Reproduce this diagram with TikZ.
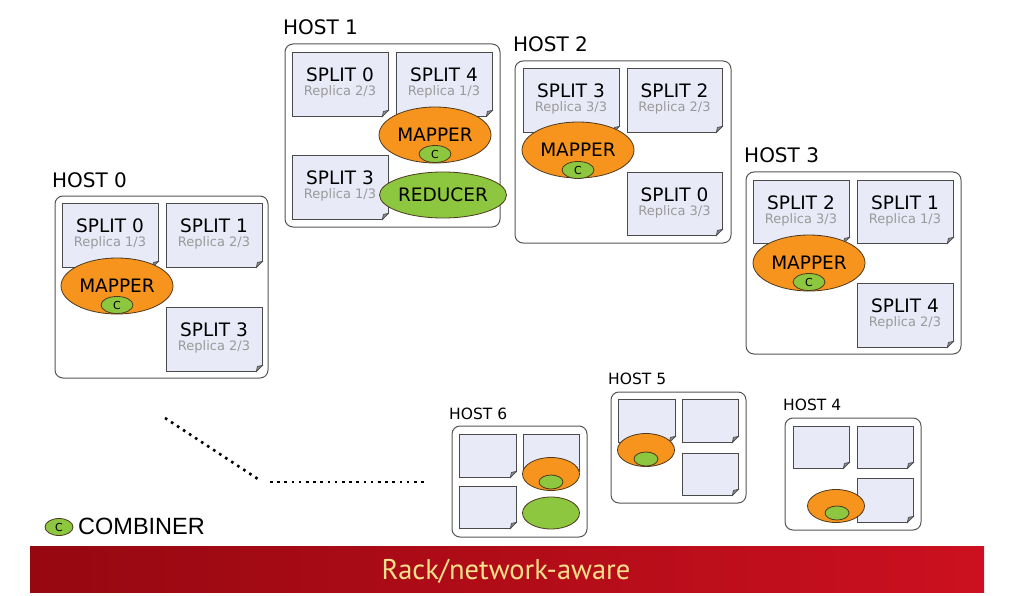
\documentclass[tikz,border=0pt]{standalone}
\usepackage{fontspec}
\setmainfont{DejaVu Sans}
\newfontfamily\combfont{Liberation Sans}
\newfontfamily\rackfont{PT Sans}
\usetikzlibrary{shapes.geometric,calc,fit}
\definecolor{splitfill}{HTML}{E8EAF8}
\definecolor{splitline}{HTML}{4A4A4A}
\definecolor{foldgray}{HTML}{8C8C8C}
\definecolor{hostline}{HTML}{555555}
\definecolor{mapfill}{HTML}{F7941E}
\definecolor{combfill}{HTML}{8DC63F}
\definecolor{ellline}{HTML}{4D3A1E}
\definecolor{repgray}{HTML}{9A9A9A}
\definecolor{rackL}{HTML}{960810}
\definecolor{rackR}{HTML}{CC1020}
\definecolor{racktext}{HTML}{F6E08C}
\tikzset{
  hostbox/.style={draw=hostline, line width=1pt, fill=white, rounded corners=8pt, inner sep=0pt},
  hostlbl/.style={anchor=base west, inner sep=0pt, font=\fontsize{20}{22}\selectfont},
  smalllbl/.style={anchor=base west, inner sep=0pt, font=\fontsize{15.5}{17}\selectfont},
  splitbox/.style={draw=splitline, line width=0.8pt, fill=splitfill, inner sep=0pt},
  splittext/.style={align=center, inner sep=0pt, font=\fontsize{13}{14}\selectfont},
  mapper/.style={ellipse, draw=ellline, line width=0.8pt, fill=mapfill, inner sep=0pt, minimum width=112pt, minimum height=56pt, font=\fontsize{18.5}{20}\selectfont},
  reducer/.style={ellipse, draw=ellline, line width=0.8pt, fill=combfill, inner sep=0pt, minimum width=97pt, minimum height=46pt, font=\fontsize{18.5}{20}\selectfont},
  comb/.style={ellipse, draw=ellline, line width=0.8pt, fill=combfill, inner sep=0pt, minimum width=32pt, minimum height=17pt, font=\fontsize{11}{12}\selectfont},
  smap/.style={ellipse, draw=ellline, line width=0.8pt, fill=mapfill, inner sep=0pt, minimum width=57pt, minimum height=33pt},
  scomb/.style={ellipse, draw=ellline, line width=0.8pt, fill=combfill, inner sep=0pt, minimum width=24pt, minimum height=14pt},
  sred/.style={ellipse, draw=ellline, line width=0.8pt, fill=combfill, inner sep=0pt, minimum width=57pt, minimum height=32pt},
  dotline/.style={line width=2.6pt, dash pattern=on 2.6pt off 4.6pt},
}
\newcommand\Page[5]{%
  \node[splitbox, fit={(#2,#3) (#4,#5)}] (#1) {};
  \fill[white] ($(#1.south east)+(-6,0.9)$) -- ($(#1.south east)+(0.9,0.9)$) -- ($(#1.south east)+(0.9,-6)$) -- cycle;
  \draw[splitline, line width=0.7pt, fill=foldgray] ($(#1.south east)+(-6,0)$) -- ($(#1.south east)+(0,-6)$) -- ($(#1.south east)+(-5,-5)$) -- cycle;
}
\newcommand\SplitLbl[2]{{\fontsize{18.5}{14}\selectfont #1}\\{\color{repgray}#2}}
\begin{document}
\begin{tikzpicture}[x=1pt,y=-1pt]
\useasboundingbox (0,0) rectangle (1024,596);
\fill[white] (0,0) rectangle (1024,596);

% HOST 0
\node[hostlbl] (h0l) at (52,187) {HOST 0};
\node[hostbox, fit={(55,196) (268,378)}] (h0) {};
\Page{h0s0}{62}{203}{158}{267}
\Page{h0s1}{166}{203}{262}{267}
\Page{h0s3}{166}{307}{262}{371}
\node[splittext] (h0s0t) at ($(h0s0)+(0,-1)$) {\SplitLbl{SPLIT 0}{Replica 1/3}};
\node[splittext] (h0s1t) at ($(h0s1)+(0,-1)$) {\SplitLbl{SPLIT 1}{Replica 2/3}};
\node[splittext] (h0s3t) at ($(h0s3)+(0,-1)$) {\SplitLbl{SPLIT 3}{Replica 2/3}};
\node[mapper] (h0m) at (117,286) {MAPPER};
\node[comb] (h0c) at (117,305) {C};

% HOST 1
\node[hostlbl] (h1l) at (283,35) {HOST 1};
\node[hostbox, fit={(285,44) (500,227)}] (h1) {};
\Page{h1s0}{292}{52}{388}{116}
\Page{h1s4}{396}{52}{492}{116}
\Page{h1s3}{292}{155}{388}{219}
\node[splittext] (h1s0t) at ($(h1s0)+(0,-1)$) {\SplitLbl{SPLIT 0}{Replica 2/3}};
\node[splittext] (h1s4t) at ($(h1s4)+(0,-1)$) {\SplitLbl{SPLIT 4}{Replica 1/3}};
\node[splittext] (h1s3t) at ($(h1s3)+(0,-1)$) {\SplitLbl{SPLIT 3}{Replica 1/3}};
\node[mapper] (h1m) at (435,135) {MAPPER};
\node[comb] (h1c) at (435,154) {C};
\node[reducer] (h1r) at (443,195) {REDUCER};

% HOST 2
\node[hostlbl] (h2l) at (513,52) {HOST 2};
\node[hostbox, fit={(515,61) (731,243)}] (h2) {};
\Page{h2s3}{523}{68}{619}{132}
\Page{h2s2}{627}{68}{722}{132}
\Page{h2s0}{627}{172}{722}{235}
\node[splittext] (h2s3t) at ($(h2s3)+(0,-1)$) {\SplitLbl{SPLIT 3}{Replica 3/3}};
\node[splittext] (h2s2t) at ($(h2s2)+(0,-1)$) {\SplitLbl{SPLIT 2}{Replica 2/3}};
\node[splittext] (h2s0t) at ($(h2s0)+(0,-1)$) {\SplitLbl{SPLIT 0}{Replica 3/3}};
\node[mapper] (h2m) at (578,150) {MAPPER};
\node[comb] (h2c) at (578,170) {C};

% HOST 3
\node[hostlbl] (h3l) at (744,163) {HOST 3};
\node[hostbox, fit={(746,172) (961,354)}] (h3) {};
\Page{h3s2}{753}{180}{849}{243}
\Page{h3s1}{857}{180}{953}{243}
\Page{h3s4}{857}{283}{953}{347}
\node[splittext] (h3s2t) at ($(h3s2)+(0,-1)$) {\SplitLbl{SPLIT 2}{Replica 3/3}};
\node[splittext] (h3s1t) at ($(h3s1)+(0,-1)$) {\SplitLbl{SPLIT 1}{Replica 1/3}};
\node[splittext] (h3s4t) at ($(h3s4)+(0,-1)$) {\SplitLbl{SPLIT 4}{Replica 2/3}};
\node[mapper] (h3m) at (809,263) {MAPPER};
\node[comb] (h3c) at (809,282) {C};

% HOST 6
\node[smalllbl] (h6l) at (449,419) {HOST 6};
\node[hostbox, fit={(452,426) (587,537)}] (h6) {};
\Page{h6a}{459}{434}{516}{477}
\Page{h6b}{523}{434}{579}{477}
\Page{h6c}{459}{486}{516}{528}
\node[smap] (h6m) at (551,474) {};
\node[scomb] (h6c1) at (551,482) {};
\node[sred] (h6r) at (551,513) {};

% HOST 5
\node[smalllbl] (h5l) at (608,384) {HOST 5};
\node[hostbox, fit={(611,392) (746,503)}] (h5) {};
\Page{h5a}{618}{399}{675}{442}
\Page{h5b}{682}{399}{738}{442}
\Page{h5c}{682}{453}{738}{495}
\node[smap] (h5m) at (646,450) {};
\node[scomb] (h5c1) at (646,459) {};

% HOST 4
\node[smalllbl] (h4l) at (783,410) {HOST 4};
\node[hostbox, fit={(785,418) (921,530)}] (h4) {};
\Page{h4a}{793}{426}{849}{468}
\Page{h4b}{857}{426}{913}{468}
\Page{h4c}{857}{478}{913}{522}
\node[smap] (h4m) at (836,506) {};
\node[scomb] (h4c1) at (837,513) {};

% dotted continuation
\coordinate (d1) at (165,418);
\coordinate (d2) at (261,481);
\coordinate (d3) at (270,482);
\coordinate (d4) at (424,482);
\draw[dotline] (d1) -- (d2);
\draw[dotline] (d3) -- (d4);

% legend
\node[comb, minimum width=28pt, minimum height=17pt] (leg) at (59,527) {C};
\node[anchor=base west, inner sep=0pt, font=\combfont\fontsize{23.5}{25}\selectfont] (legt) at (78,534) {COMBINER};

% rack bar
\node[fit={(30,546) (984,592)}, inner sep=0pt, left color=rackL, right color=rackR] (rack) {};
\node[text=racktext, inner sep=0pt, font=\rackfont\fontsize{28.5}{30}\selectfont] (rackt) at (506,571) {Rack/network-aware};
\end{tikzpicture}
\end{document}
